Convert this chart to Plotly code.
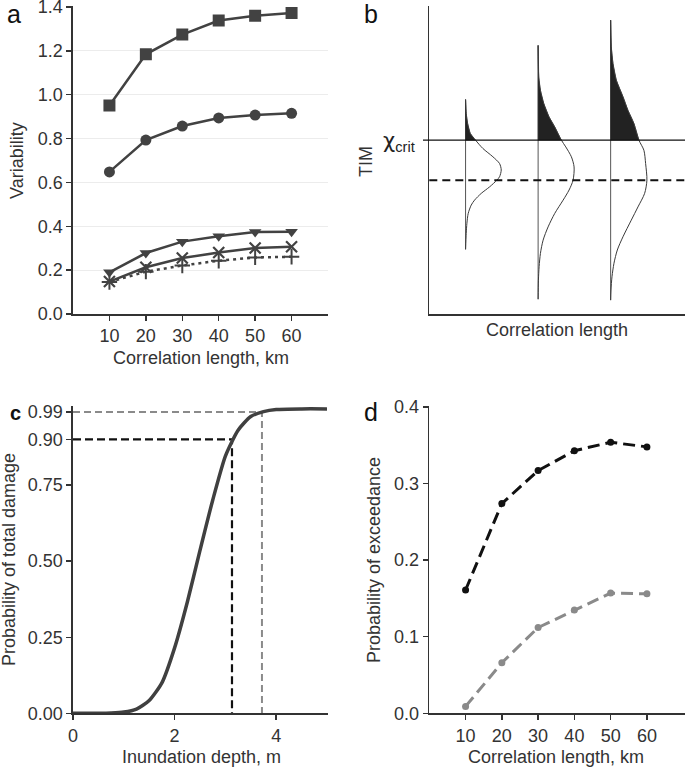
import plotly.graph_objects as go

W, H = 685, 768

# ---------------- data ----------------
corr_len = [10, 20, 30, 40, 50, 60]

# panel a (variability)
var_square = [0.951, 1.184, 1.274, 1.338, 1.360, 1.373]
var_circle = [0.648, 0.793, 0.857, 0.894, 0.907, 0.915]
var_tri = [0.190, 0.278, 0.330, 0.355, 0.374, 0.375]
var_x = [0.148, 0.213, 0.255, 0.280, 0.301, 0.307]
var_plus = [0.146, 0.193, 0.221, 0.243, 0.258, 0.261]
a_ticks = [0.0, 0.2, 0.4, 0.6, 0.8, 1.0, 1.2, 1.4]

# panel b (schematic TIM distributions)
b_positions = [10, 30, 50]
chi_crit = 5.65
tim_mean = 4.35
b_y1 = [6.97, 6.52, 6.20, 5.87, 5.65, 5.38, 5.11, 4.89, 4.68, 4.46, 4.35, 4.13, 3.92, 3.70, 3.54, 3.27, 2.95, 2.62, 2.10]
b_w1 = [0, 0.18, 0.55, 1.29, 2.75, 4.77, 7.53, 9.37, 9.83, 9.37, 8.63, 6.61, 4.32, 2.48, 1.56, 0.73, 0.37, 0.18, 0]
b_y2 = [8.73, 7.70, 7.27, 6.84, 6.40, 6.08, 5.65, 5.43, 5.11, 4.78, 4.35, 4.03, 3.70, 3.27, 2.83, 2.40, 1.97, 1.54, 1.10, 0.48]
b_w2 = [0, 0.18, 0.64, 1.56, 3.03, 4.59, 6.42, 7.63, 9.17, 9.92, 9.64, 8.54, 6.89, 4.59, 2.75, 1.38, 0.64, 0.28, 0.09, 0]
b_y3 = [9.55, 8.68, 8.14, 7.60, 7.06, 6.62, 6.19, 5.65, 5.32, 4.89, 4.35, 3.92, 3.48, 3.05, 2.51, 2.08, 1.65, 1.21, 0.78, 0.45]
b_w3 = [0, 0.18, 0.64, 1.56, 3.40, 4.77, 6.42, 7.80, 9.17, 9.64, 10.0, 9.37, 7.53, 5.69, 3.40, 1.84, 0.92, 0.37, 0.09, 0]

# panel c (fragility curve)
depth = [0, 0.5, 0.75, 1.0, 1.25, 1.5, 1.75, 2.0, 2.25, 2.5, 2.75, 3.0, 3.25, 3.5, 3.75, 4.0, 4.5, 5.0]
p_damage = [0, 0, 0.001, 0.004, 0.014, 0.042, 0.10, 0.215, 0.365, 0.535, 0.70, 0.845, 0.93, 0.975, 0.991, 0.998, 1.0, 1.0]
p90, d90 = 0.90, 3.13
p99, d99 = 0.99, 3.72
c_ticks = [0.00, 0.25, 0.50, 0.75, 0.90, 0.99]
c_xticks = [0, 2, 4]

# panel d (probability of exceedance)
pe_black = [0.161, 0.274, 0.317, 0.343, 0.354, 0.348]
pe_grey = [0.009, 0.066, 0.112, 0.135, 0.157, 0.156]
d_ticks = [0.0, 0.1, 0.2, 0.3, 0.4]

# ---------------- helpers ----------------
def fx(px):
    return px / W

def fy(py):
    return 1 - py / H

FONT = "Liberation Sans, Arial, Helvetica, sans-serif"
TXT = "#333333"
AX = "#333333"
LINE = "#424242"

fig = go.Figure()

# ---- panel a ----
fig.add_trace(go.Scatter(x=corr_len, y=var_square, mode="lines+markers", xaxis="x", yaxis="y",
                         line=dict(color=LINE, width=2.5), marker=dict(symbol="square", size=12, color=LINE)))
fig.add_trace(go.Scatter(x=corr_len, y=var_circle, mode="lines+markers", xaxis="x", yaxis="y",
                         line=dict(color=LINE, width=2.5), marker=dict(symbol="circle", size=11, color=LINE)))
fig.add_trace(go.Scatter(x=corr_len, y=var_tri, mode="lines+markers", xaxis="x", yaxis="y",
                         line=dict(color=LINE, width=2.5), marker=dict(symbol="triangle-down", size=11, color=LINE)))
fig.add_trace(go.Scatter(x=corr_len, y=var_x, mode="lines+markers", xaxis="x", yaxis="y",
                         line=dict(color=LINE, width=2.5),
                         marker=dict(symbol="x-thin", size=11, color=LINE, line=dict(color=LINE, width=2.2))))
fig.add_trace(go.Scatter(x=corr_len, y=var_plus, mode="lines+markers", xaxis="x", yaxis="y",
                         line=dict(color=LINE, width=2.5, dash="3px,4px"),
                         marker=dict(symbol="cross-thin", size=11, color=LINE, line=dict(color=LINE, width=2))))

# ---- panel b ----
profiles = [(b_y1, b_w1), (b_y2, b_w2), (b_y3, b_w3)]
for base, (ys, ws) in zip(b_positions, profiles):
    # baseline
    fig.add_trace(go.Scatter(x=[base, base], y=[min(ys), max(ys)], mode="lines", xaxis="x2", yaxis="y2",
                             line=dict(color="#555555", width=1)))
    # filled tail above chi_crit
    fx_pts = [base + w for y, w in zip(ys, ws) if y >= chi_crit]
    fy_pts = [y for y in ys if y >= chi_crit]
    fig.add_trace(go.Scatter(x=fx_pts + [base, base], y=fy_pts + [chi_crit, max(ys)], mode="lines",
                             xaxis="x2", yaxis="y2", fill="toself", fillcolor="#222222",
                             line=dict(color="#222222", width=0.5)))
    # outline
    fig.add_trace(go.Scatter(x=[base + w for w in ws], y=ys, mode="lines", xaxis="x2", yaxis="y2",
                             line=dict(color="#3a3a3a", width=1, shape="spline", smoothing=0.8)))

# ---- panel c ----
fig.add_trace(go.Scatter(x=[0, d99, d99], y=[p99, p99, 0], mode="lines", xaxis="x3", yaxis="y3",
                         line=dict(color="#8a8a8a", width=2, dash="7px,4px")))
fig.add_trace(go.Scatter(x=[0, d90, d90], y=[p90, p90, 0], mode="lines", xaxis="x3", yaxis="y3",
                         line=dict(color="#111111", width=2.2, dash="8px,4px")))
fig.add_trace(go.Scatter(x=depth, y=p_damage, mode="lines", xaxis="x3", yaxis="y3",
                         line=dict(color="#404040", width=3.5, shape="spline", smoothing=0.6)))

# ---- panel d ----
fig.add_trace(go.Scatter(x=corr_len, y=pe_black, mode="lines+markers", xaxis="x4", yaxis="y4",
                         line=dict(color="#111111", width=3, dash="12px,6px"),
                         marker=dict(symbol="circle", size=7, color="#111111")))
fig.add_trace(go.Scatter(x=corr_len, y=pe_grey, mode="lines+markers", xaxis="x4", yaxis="y4",
                         line=dict(color="#8a8a8a", width=3, dash="12px,6px"),
                         marker=dict(symbol="circle", size=7, color="#8a8a8a")))

# ---------------- axes ----------------
common = dict(showline=True, linecolor=AX, linewidth=1.6, zeroline=False, showgrid=False,
              ticks="outside", ticklen=5, tickwidth=1.4, tickcolor=AX, ticklabeloverflow="allow",
              tickfont=dict(family=FONT, size=18, color=TXT), automargin=False, fixedrange=True)

dom_a_x = [fx(73), fx(328)]
dom_top_y = [fy(314), fy(6.3)]
dom_b_x = [fx(429.3), 1.0]
dom_c_x = dom_a_x
dom_bot_y = [fy(713.3), fy(406.3)]

fig.update_layout(
    xaxis=dict(common, domain=dom_a_x, range=[0, 70], tickvals=corr_len, anchor="y"),
    yaxis=dict(common, domain=dom_top_y, range=[0, 1.403], tickvals=a_ticks,
               ticktext=[f"{v:.1f}" for v in a_ticks], showgrid=True, gridcolor="#ececec", gridwidth=1,
               anchor="x"),
    xaxis2=dict(common, domain=dom_b_x, range=[0, 70.5], ticks="", showticklabels=False, anchor="y2"),
    yaxis2=dict(common, domain=dom_top_y, range=[0, 10], ticks="", showticklabels=False, anchor="x2"),
    xaxis3=dict(common, domain=dom_c_x, range=[0, 5.02], tickvals=c_xticks, anchor="y3"),
    yaxis3=dict(common, domain=dom_bot_y, range=[0, 1.0085], tickvals=c_ticks,
                ticktext=[f"{v:.2f}" for v in c_ticks], anchor="x3"),
    xaxis4=dict(common, domain=dom_b_x, range=[0, 70.5], tickvals=corr_len, anchor="y4"),
    yaxis4=dict(common, domain=dom_bot_y, range=[0, 0.401], tickvals=d_ticks,
                ticktext=[f"{v:.1f}" for v in d_ticks], anchor="x4"),
)

# ---------------- reference lines in b ----------------
fig.add_shape(type="line", xref="paper", yref="y2", x0=fx(423), x1=1.0, y0=chi_crit, y1=chi_crit,
              line=dict(color="#111111", width=1.3))
fig.add_shape(type="line", xref="paper", yref="y2", x0=fx(429.3), x1=1.0, y0=tim_mean, y1=tim_mean,
              line=dict(color="#111111", width=2, dash="8px,5px"))

# ---------------- text ----------------
def ann(text, px, py, size=18, angle=0, xanchor="center", yanchor="middle", color=TXT, bold=False):
    fig.add_annotation(text=f"<b>{text}</b>" if bold else text, x=fx(px), y=fy(py), xref="paper", yref="paper",
                       showarrow=False, textangle=angle, xanchor=xanchor, yanchor=yanchor,
                       font=dict(family=FONT, size=size, color=color))

ann("Correlation length, km", 200.5, 358)
ann("Variability", 17, 161, angle=-90)
ann("Correlation length", 557, 330)
ann("TIM", 366, 161, angle=-90)
ann('<span style="font-family:DejaVu Sans">χ</span><sub>crit</sub>', 417, 142, size=21,
    xanchor="right", color="#222222")
ann("Inundation depth, m", 201, 757)
ann("Probability of total damage", 9, 560, angle=-90)
ann("Correlation length, km", 556, 757)
ann("Probability of exceedance", 374, 560, angle=-90)

ann("a", 14, 14, size=25, color="#111111")
ann("b", 371, 14, size=25, color="#111111")
ann("c", 15, 413, size=20, color="#111111", bold=True)
ann("d", 371, 412, size=25, color="#111111")

fig.update_layout(width=W, height=H, margin=dict(l=0, r=0, t=0, b=0), showlegend=False,
                  plot_bgcolor="white", paper_bgcolor="white", font=dict(family=FONT, color=TXT))

fig.write_html("out.html", config={"displayModeBar": False, "staticPlot": True},
               post_script="document.body.style.margin='0px';")
